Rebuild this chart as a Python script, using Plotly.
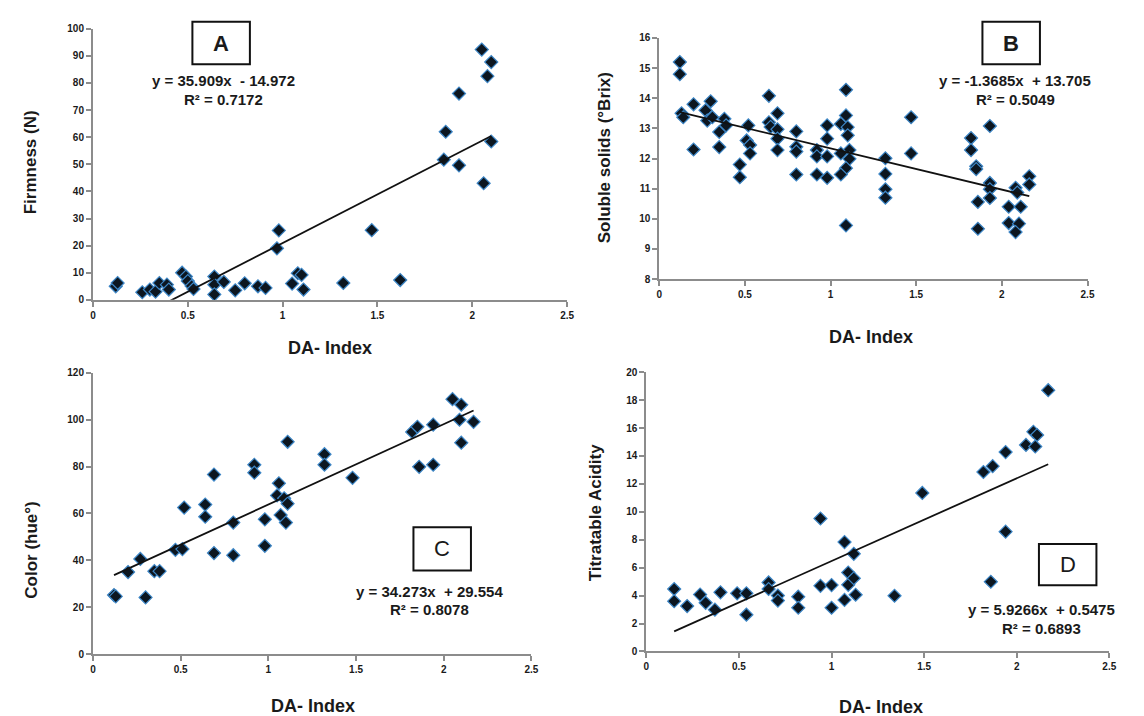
import plotly.graph_objects as go

W, H = 1144, 716

# ---------------- data ----------------
# Panel A: Firmness (N) vs DA-Index
a_x = [0.12, 0.13, 0.26, 0.30, 0.33, 0.35, 0.39, 0.40, 0.47, 0.49, 0.50, 0.52, 0.53,
       0.64, 0.64, 0.64, 0.69, 0.75, 0.80, 0.87, 0.91, 0.97, 0.98, 1.05, 1.08, 1.10,
       1.11, 1.32, 1.47, 1.62, 1.85, 1.86, 1.93, 1.93, 2.05, 2.06, 2.08, 2.10, 2.10]
a_y = [5.0, 6.2, 2.8, 3.8, 3.0, 6.2, 5.6, 3.8, 10.0, 8.6, 6.9, 5.1, 4.0,
       8.6, 5.6, 2.0, 6.6, 3.5, 6.1, 5.0, 4.4, 19.0, 25.6, 6.0, 9.8, 9.2,
       3.8, 6.2, 25.7, 7.3, 51.7, 62.0, 76.1, 49.6, 92.3, 43.0, 82.5, 87.7, 58.4]
a_coef = (35.909, -14.972)
a_r2 = "0.7172"

# Panel B: Soluble solids (°Brix) vs DA-Index
b_x = [0.12, 0.12, 0.13, 0.14, 0.20, 0.20, 0.27, 0.30, 0.28, 0.31, 0.38, 0.39, 0.35,
       0.35, 0.47, 0.47, 0.52, 0.51, 0.53, 0.53, 0.64, 0.64, 0.65, 0.69, 0.69, 0.69,
       0.69, 0.80, 0.80, 0.80, 0.80, 0.92, 0.92, 0.92, 0.98, 0.98, 0.98, 0.98,
       1.09, 1.09, 1.06, 1.10, 1.10, 1.11, 1.11, 1.09, 1.06, 1.06, 1.09,
       1.32, 1.32, 1.32, 1.32, 1.47, 1.47, 1.82, 1.82, 1.85, 1.85, 1.86, 1.86,
       1.93, 1.93, 1.93, 1.93, 2.04, 2.08, 2.09, 2.11, 2.04, 2.10, 2.08, 2.16, 2.16]
b_y = [15.2, 14.8, 13.5, 13.37, 13.8, 12.3, 13.6, 13.9, 13.26, 13.37, 13.32, 13.1, 12.88,
       12.38, 11.8, 11.38, 13.1, 12.6, 12.45, 12.17, 14.08, 13.2, 13.05, 13.5, 12.97, 12.66,
       12.28, 12.9, 12.39, 12.23, 11.47, 12.28, 12.07, 11.47, 13.1, 12.66, 12.07, 11.36,
       14.28, 13.43, 13.15, 13.04, 12.77, 12.28, 11.99, 11.68, 12.17, 11.47, 9.78,
       12.01, 11.49, 10.98, 10.7, 13.37, 12.17, 12.68, 12.28, 11.74, 11.65, 10.56, 9.67,
       13.08, 11.19, 10.98, 10.69, 10.4, 11.03, 10.87, 10.4, 9.86, 9.84, 9.56, 11.41, 11.14]
b_coef = (-1.3685, 13.705)
b_r2 = "0.5049"

# Panel C: Color (hue°) vs DA-Index
c_x = [0.12, 0.13, 0.20, 0.27, 0.30, 0.35, 0.38, 0.47, 0.51, 0.52, 0.64, 0.64, 0.69,
       0.69, 0.80, 0.80, 0.92, 0.92, 0.98, 0.98, 1.06, 1.05, 1.09, 1.11, 1.07, 1.10,
       1.11, 1.32, 1.32, 1.48, 1.82, 1.85, 1.86, 1.94, 1.94, 2.05, 2.10, 2.09, 2.10, 2.17]
c_y = [25.2, 24.6, 35.0, 40.6, 24.2, 35.4, 35.4, 44.5, 44.8, 62.5, 63.8, 58.6, 76.6,
       43.1, 56.1, 42.2, 80.8, 77.4, 57.5, 46.2, 72.9, 67.7, 66.5, 64.2, 59.3, 56.1,
       90.6, 85.3, 80.8, 75.2, 94.8, 97.0, 79.9, 97.9, 80.8, 108.8, 106.4, 100.0, 90.2, 99.1]
c_coef = (34.273, 29.554)
c_r2 = "0.8078"

# Panel D: Titratable Acidity vs DA-Index
d_x = [0.15, 0.15, 0.22, 0.29, 0.32, 0.37, 0.40, 0.49, 0.54, 0.54, 0.66, 0.66, 0.71,
       0.71, 0.82, 0.82, 0.94, 0.94, 1.00, 1.00, 1.07, 1.07, 1.09, 1.09, 1.12, 1.12,
       1.13, 1.34, 1.49, 1.82, 1.87, 1.86, 1.94, 1.94, 2.05, 2.09, 2.11, 2.10, 2.17]
d_y = [4.47, 3.6, 3.25, 4.07, 3.48, 2.99, 4.23, 4.16, 4.16, 2.63, 4.94, 4.47, 4.0,
       3.64, 3.92, 3.13, 9.52, 4.7, 4.75, 3.13, 7.83, 3.69, 5.65, 4.77, 6.99, 5.24,
       4.06, 3.99, 11.35, 12.85, 13.27, 4.99, 14.28, 8.58, 14.79, 15.73, 15.5, 14.68, 18.71]
d_coef = (5.9266, 0.5475)
d_r2 = "0.6893"

x_ticks = [0, 0.5, 1, 1.5, 2, 2.5]
x_title = "DA- Index"

panels = [
    dict(name="A", x=a_x, y=a_y, coef=a_coef, r2=a_r2, ytitle="Firmness (N)",
         yrange=[0, 100], dtick=10, eq="y = 35.909x \u00a0- 14.972", bold=True),
    dict(name="B", x=b_x, y=b_y, coef=b_coef, r2=b_r2, ytitle="Soluble solids (\u00b0Brix)",
         yrange=[8, 16], dtick=1, eq="y = -1.3685x \u00a0+ 13.705", bold=True),
    dict(name="C", x=c_x, y=c_y, coef=c_coef, r2=c_r2, ytitle="Color (hue\u00b0)",
         yrange=[0, 120], dtick=20, eq="y = 34.273x \u00a0+ 29.554", bold=False),
    dict(name="D", x=d_x, y=d_y, coef=d_coef, r2=d_r2, ytitle="Titratable Acidity",
         yrange=[0, 20], dtick=2, eq="y = 5.9266x \u00a0+ 0.5475", bold=False),
]

# ---------------- layout geometry (pixels) ----------------
# plot area: (left, right, top, bottom)
areas = [(82.7, 561, 15, 290.7), (654, 1086, 24.4, 269.6),
         (82.7, 525, 365, 651), (641, 1108, 364.3, 648.3)]
# label box (x0, x1, y0, y1), equation centre, r2 centre
boxes = [(183, 241, 8, 51), (980, 1038, 8, 51), (406, 464, 522, 566), (1037, 1095, 539, 581)]
eq_pos = [(214, 68, 87), (1013, 68, 87), (422, 587, 606), (1040, 606, 625)]
ytitle_pos = [(20, 151), (599, 146), (21, 545), (590, 507)]
xtitle_pos = [(322, 340), (868, 328), (305, 704), (878, 705)]


def px(x):
    return x / W


def py(y):
    return 1 - y / H


FONT = "Liberation Sans, Arial, sans-serif"
TXT = "#1a1a1a"
AXC = "#8c8c8c"

fig = go.Figure()
annotations = []
shapes = []
layout = {}

for i, p in enumerate(panels):
    n = "" if i == 0 else str(i + 1)
    xa, ya = "x" + n, "y" + n
    fig.add_trace(go.Scatter(
        x=p["x"], y=p["y"], mode="markers", xaxis=xa, yaxis=ya, showlegend=False,
        marker=dict(symbol="diamond", size=10, color="#0c1620",
                    line=dict(color="#3d86c6", width=1.2)),
        cliponaxis=False))
    m, b = p["coef"]
    x0, x1 = min(p["x"]), max(p["x"])
    fig.add_trace(go.Scatter(
        x=[x0, x1], y=[m * x0 + b, m * x1 + b], mode="lines", xaxis=xa, yaxis=ya,
        showlegend=False, line=dict(color="#111111", width=1.8)))

    l, r, t, bt = areas[i]
    axis_common = dict(showline=True, linecolor=AXC, linewidth=2, ticks="outside",
                       ticklen=5, tickwidth=2, tickcolor=AXC, showgrid=False,
                       zeroline=False, tickfont=dict(family=FONT, size=10, color=TXT, weight="bold"))
    layout["xaxis" + n] = dict(domain=[px(l), px(r)], range=[0, 2.5], tickvals=x_ticks,
                               anchor=ya, **axis_common)
    layout["yaxis" + n] = dict(domain=[py(bt), py(t)], range=p["yrange"], dtick=p["dtick"],
                               tick0=p["yrange"][0], anchor=xa, **axis_common)

    # label box
    bx0, bx1, by0, by1 = boxes[i]
    shapes.append(dict(type="rect", xref="paper", yref="paper",
                       x0=px(bx0), x1=px(bx1), y0=py(by1), y1=py(by0),
                       line=dict(color="#111111", width=2), fillcolor="white"))
    annotations.append(dict(text=p["name"], xref="paper", yref="paper",
                            x=px((bx0 + bx1) / 2), y=py((by0 + by1) / 2),
                            showarrow=False, xanchor="center", yanchor="middle",
                            font=dict(family=FONT, size=22, color=TXT,
                                      weight="bold" if p["bold"] else "normal")))
    ex, ey, ry = eq_pos[i]
    annotations.append(dict(text=p["eq"], xref="paper", yref="paper", x=px(ex), y=py(ey),
                            showarrow=False, xanchor="center", yanchor="middle",
                            font=dict(family=FONT, size=15, color=TXT, weight="bold")))
    annotations.append(dict(text="R\u00b2 = " + p["r2"], xref="paper", yref="paper",
                            x=px(ex), y=py(ry), showarrow=False, xanchor="center",
                            yanchor="middle",
                            font=dict(family=FONT, size=15, color=TXT, weight="bold")))
    tx, ty = ytitle_pos[i]
    annotations.append(dict(text=p["ytitle"], xref="paper", yref="paper", x=px(tx), y=py(ty),
                            showarrow=False, textangle=-90, xanchor="center", yanchor="middle",
                            font=dict(family=FONT, size=17, color=TXT, weight="bold")))
    tx, ty = xtitle_pos[i]
    annotations.append(dict(text=x_title, xref="paper", yref="paper", x=px(tx), y=py(ty),
                            showarrow=False, xanchor="center", yanchor="middle",
                            font=dict(family=FONT, size=18, color=TXT, weight="bold")))

fig.update_layout(width=W, height=H, margin=dict(l=0, r=0, t=0, b=0),
                  paper_bgcolor="white", plot_bgcolor="white",
                  annotations=annotations, shapes=shapes, **layout)

fig.write_html("out.html")
